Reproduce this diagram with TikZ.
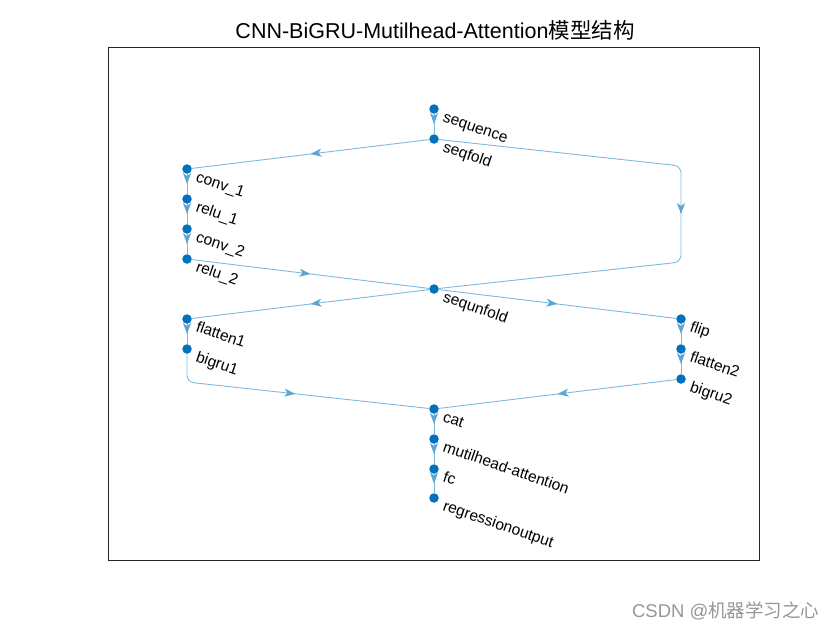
\documentclass[tikz,border=0pt]{standalone}
\usepackage{fontspec}
\setmainfont{Liberation Sans}
\newfontfamily\cjk{Noto Sans CJK SC}
\usetikzlibrary{arrows.meta,decorations.markings}
\definecolor{dotblue}{RGB}{0,114,189}
\definecolor{edgeblue}{RGB}{128,185,222}
\definecolor{tipblue}{RGB}{95,165,212}
\definecolor{axisgray}{RGB}{38,38,38}
\tikzset{
  layer/.style={circle, fill=dotblue, inner sep=0pt, minimum size=9.5pt},
  lbl/.style={anchor=base west, rotate=-19, inner sep=0pt, font=\fontsize{15.5}{18}\selectfont},
  flow/.style={draw=edgeblue, line width=0.9pt, postaction={decorate},
    decoration={markings, mark=at position 0.5 with {\arrow{Stealth[length=11pt,width=8pt,inset=3pt,color=tipblue]}}}}
}
\begin{document}
\begin{tikzpicture}[x=1pt, y=-1pt]
	\useasboundingbox (0,0) rectangle (840,630);
	% Define title and axes
	\node[anchor=base] (title) at (435,38) {\fontsize{21.5}{24}\selectfont CNN-BiGRU-Mutilhead-Attention{\cjk 模型结构}};
	\draw[axisgray, line width=0.6pt] (108.5,47.5) rectangle (759.5,560.5);

	% Define sequence seqfold
	\node[layer] (sequence) at (434,109) {};
	\node[layer] (seqfold) at (434,139) {};
	\node[lbl] (Lsequence) at (442,121) {sequence};
	\node[lbl] (Lseqfold) at (442,151) {seqfold};

	% Define conv_1 relu_1 conv_2 relu_2
	\node[layer] (conv1) at (187,169) {};
	\node[layer] (relu1) at (187,199) {};
	\node[layer] (conv2) at (187,229) {};
	\node[layer] (relu2) at (187,259) {};
	\node[lbl] (Lconv1) at (195,181) {conv\_1};
	\node[lbl] (Lrelu1) at (195,211) {relu\_1};
	\node[lbl] (Lconv2) at (195,241) {conv\_2};
	\node[lbl] (Lrelu2) at (195,271) {relu\_2};

	% Define sequnfold
	\node[layer] (sequnfold) at (434,289) {};
	\node[lbl] (Lsequnfold) at (442,301) {sequnfold};

	% Define flatten1 bigru1
	\node[layer] (flatten1) at (187,319) {};
	\node[layer] (bigru1) at (187,349) {};
	\node[lbl] (Lflatten1) at (195,331) {flatten1};
	\node[lbl] (Lbigru1) at (195,361) {bigru1};

	% Define flip flatten2 bigru2
	\node[layer] (flip) at (681,319) {};
	\node[layer] (flatten2) at (681,349) {};
	\node[layer] (bigru2) at (681,379) {};
	\node[lbl] (Lflip) at (689,331) {flip};
	\node[lbl] (Lflatten2) at (689,361) {flatten2};
	\node[lbl] (Lbigru2) at (689,391) {bigru2};

	% Define cat mutilhead-attention fc regressionoutput
	\node[layer] (cat) at (434,409) {};
	\node[layer] (attention) at (434,439) {};
	\node[layer] (fc) at (434,469) {};
	\node[layer] (output) at (434,498) {};
	\node[lbl] (Lcat) at (442,421) {cat};
	\node[lbl] (Lattention) at (442,451) {mutilhead-attention};
	\node[lbl] (Lfc) at (442,481) {fc};
	\node[lbl] (Loutput) at (442,510) {regressionoutput};

	% Connections
	\draw[flow] (sequence) -- (seqfold);
	\draw[flow] (seqfold) -- (conv1);
	\draw[flow, rounded corners=7pt] (seqfold) -- (681,166) -- (681,262) -- (sequnfold);
	\draw[flow] (conv1) -- (relu1);
	\draw[flow] (relu1) -- (conv2);
	\draw[flow] (conv2) -- (relu2);
	\draw[flow] (relu2) -- (sequnfold);
	\draw[flow] (sequnfold) -- (flatten1);
	\draw[flow] (sequnfold) -- (flip);
	\draw[flow] (flatten1) -- (bigru1);
	\draw[flow] (flip) -- (flatten2);
	\draw[flow] (flatten2) -- (bigru2);
	\draw[flow, rounded corners=7pt] (bigru1) -- (187,382) -- (cat);
	\draw[flow] (bigru2) -- (cat);
	\draw[flow] (cat) -- (attention);
	\draw[flow] (attention) -- (fc);
	\draw[flow] (fc) -- (output);

	% Watermark
	\node[anchor=base east, text={rgb,255:red,150;green,150;blue,150}] (mark) at (823,617) {\fontsize{18.5}{21}\selectfont CSDN @{\cjk 机器学习之心}};
\end{tikzpicture}
\end{document}
